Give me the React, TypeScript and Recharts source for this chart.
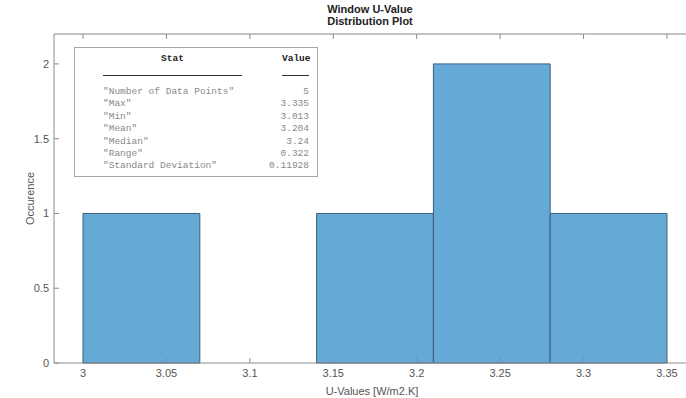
import { ComposedChart, XAxis, YAxis, ReferenceArea, Label } from 'recharts'

const binEdges = [3.0, 3.07, 3.14, 3.21, 3.28, 3.35]
const binCounts = [1, 0, 1, 2, 1]
const xTicks = [3, 3.05, 3.1, 3.15, 3.2, 3.25, 3.3, 3.35]
const yTicks = [0, 0.5, 1, 1.5, 2]
const statNames = ['"Number of Data Points"', '"Max"', '"Min"', '"Mean"', '"Median"', '"Range"', '"Standard Deviation"']
const statValues = ['5', '3.335', '3.013', '3.204', '3.24', '0.322', '0.11928']

const bins = binCounts.map((count, i) => ({ x1: binEdges[i], x2: binEdges[i + 1], count }))

const axisColor = '#8a8a8a'
const textColor = '#555'
const sans = '"Liberation Sans", Arial, sans-serif'
const mono = '"Liberation Mono", "Courier New", monospace'
const xDomain = [2.9826, 3.3638]

function StatsTable() {
  return (
    <div
      style={{
        position: 'absolute', left: 74, top: 47, width: 242, height: 128,
        background: '#fff', border: '1px solid #a8a8a8', fontFamily: mono, fontSize: 9.5,
      }}
    >
      <div style={{ position: 'absolute', left: 28, width: 139, top: 5, textAlign: 'center', fontWeight: 'bold', color: '#222' }}>Stat</div>
      <div style={{ position: 'absolute', left: 207, width: 27, top: 5, textAlign: 'center', fontWeight: 'bold', color: '#222' }}>Value</div>
      <div style={{ position: 'absolute', left: 28, width: 139, top: 27, borderTop: '1px solid #333' }} />
      <div style={{ position: 'absolute', left: 207, width: 27, top: 27, borderTop: '1px solid #333' }} />
      {statNames.map((name, i) => (
        <div key={name} style={{ position: 'absolute', left: 28, right: 8, top: 38 + i * 12.4, height: 12, color: '#888', lineHeight: '12px' }}>
          <span>{name}</span>
          <span style={{ position: 'absolute', right: 0 }}>{statValues[i]}</span>
        </div>
      ))}
    </div>
  )
}

export default function App() {
  return (
    <div style={{ position: 'absolute', left: 0, top: 0, width: 686, height: 398, background: '#fff', overflow: 'hidden' }}>
      <div
        style={{
          position: 'absolute', left: 54, width: 632, top: 3, textAlign: 'center',
          fontFamily: sans, fontWeight: 'bold', fontSize: 11, lineHeight: '12px', color: '#222',
        }}
      >
        Window U-Value<br />Distribution Plot
      </div>
      <ComposedChart width={690} height={398} data={bins} margin={{ top: 0, right: 0, bottom: 0, left: 0 }}>
        <XAxis
          xAxisId="b"
          type="number"
          dataKey="x1"
          domain={xDomain}
          ticks={xTicks}
          allowDataOverflow
          height={35}
          stroke={axisColor}
          tickSize={-5}
          tickMargin={11}
          tick={{ fill: textColor, fontSize: 11, fontFamily: sans }}
        >
          <Label value="U-Values [W/m2.K]" position="insideBottom" offset={3} fill={textColor} fontSize={11} fontFamily={sans} />
        </XAxis>
        <XAxis
          xAxisId="t"
          orientation="top"
          type="number"
          dataKey="x1"
          domain={xDomain}
          ticks={xTicks}
          allowDataOverflow
          height={34}
          stroke={axisColor}
          tickSize={-5}
          tickFormatter={() => ''}
        />
        <YAxis
          yAxisId="l"
          type="number"
          domain={[0, 2.2]}
          ticks={yTicks}
          allowDataOverflow
          width={54}
          stroke={axisColor}
          tickSize={-5}
          tickMargin={10}
          tick={{ fill: textColor, fontSize: 11, fontFamily: sans }}
        >
          <Label value="Occurence" angle={-90} position="center" dx={3} fill={textColor} fontSize={11} fontFamily={sans} />
        </YAxis>
        {bins.filter((b) => b.count > 0).map((b) => (
          <ReferenceArea
            key={b.x1}
            xAxisId="b"
            yAxisId="l"
            x1={b.x1}
            x2={b.x2}
            y1={0}
            y2={b.count}
            fill="#65a9d7"
            fillOpacity={1}
            stroke="#3d5f78"
            strokeWidth={1}
            ifOverflow="visible"
          />
        ))}
      </ComposedChart>
      <StatsTable />
    </div>
  )
}
